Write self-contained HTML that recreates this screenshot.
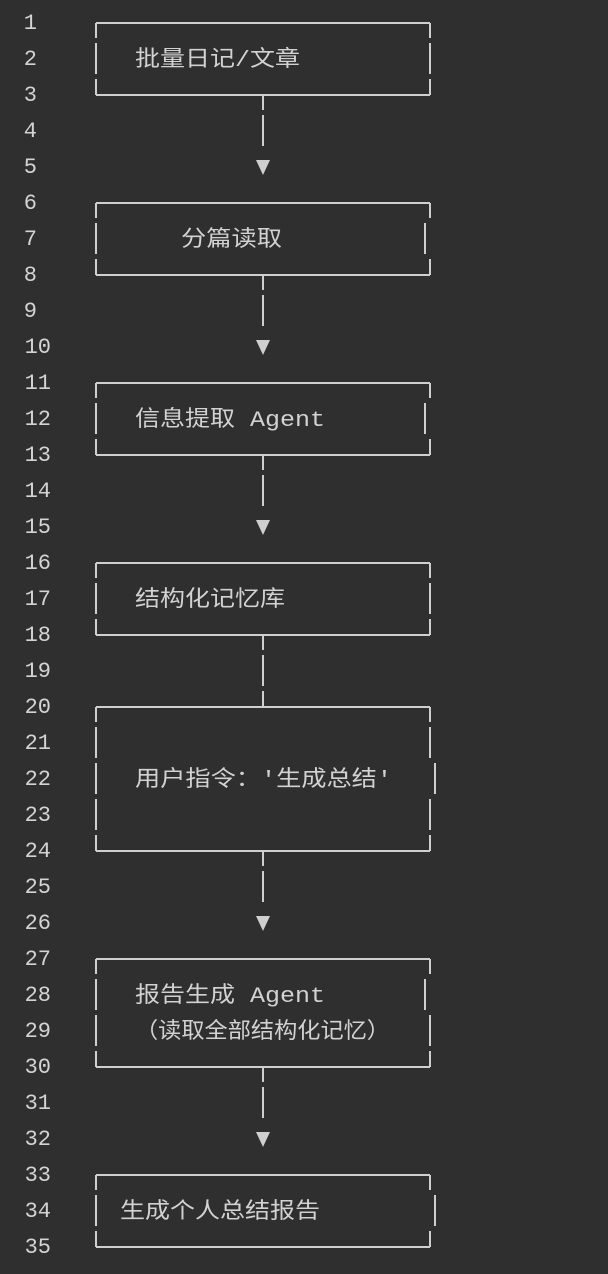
<!DOCTYPE html>
<html><head><meta charset="utf-8"><style>
html,body{margin:0;padding:0;background:#2f2f2f;}
svg{display:block}
text{font-family:"Liberation Mono","Noto Sans CJK SC",monospace;fill:#d2d2d2;}
.n{font-size:22px;text-anchor:end;fill:#d4d4d4}
.t{font-size:22px}
</style></head><body>
<svg width="608" height="1274" viewBox="0 0 608 1274" xmlns="http://www.w3.org/2000/svg">
<g id="nums">
<text class="n" x="37" y="29">1</text><text class="n" x="37" y="65">2</text><text class="n" x="37" y="101">3</text><text class="n" x="37" y="137">4</text><text class="n" x="37" y="173">5</text><text class="n" x="37" y="209">6</text><text class="n" x="37" y="245">7</text><text class="n" x="37" y="281">8</text><text class="n" x="37" y="317">9</text>
<text class="n" x="51" y="353">10</text><text class="n" x="51" y="389">11</text><text class="n" x="51" y="425">12</text><text class="n" x="51" y="461">13</text><text class="n" x="51" y="497">14</text><text class="n" x="51" y="533">15</text><text class="n" x="51" y="569">16</text><text class="n" x="51" y="605">17</text><text class="n" x="51" y="641">18</text><text class="n" x="51" y="677">19</text><text class="n" x="51" y="713">20</text><text class="n" x="51" y="749">21</text><text class="n" x="51" y="785">22</text><text class="n" x="51" y="821">23</text><text class="n" x="51" y="857">24</text><text class="n" x="51" y="893">25</text><text class="n" x="51" y="929">26</text><text class="n" x="51" y="965">27</text><text class="n" x="51" y="1001">28</text><text class="n" x="51" y="1037">29</text><text class="n" x="51" y="1073">30</text><text class="n" x="51" y="1109">31</text><text class="n" x="51" y="1145">32</text><text class="n" x="51" y="1181">33</text><text class="n" x="51" y="1217">34</text><text class="n" x="51" y="1253">35</text>
</g>
<g stroke="#cfcfcf" stroke-width="2" fill="none">
<path d="M96,23H430 M96,95H430 M96,23V38 M96,43V74 M96,79V95 M430,23V38 M430,43V74 M430,79V95"/>
<path d="M263,95V110 M263,115V146"/>
<path d="M96,203H430 M96,275H430 M96,203V218 M96,223V254 M96,259V275 M430,203V218 M425,223V254 M430,259V275"/>
<path d="M263,275V290 M263,295V326"/>
<path d="M96,383H430 M96,455H430 M96,383V398 M96,403V434 M96,439V455 M430,383V398 M425,403V434 M430,439V455"/>
<path d="M263,455V470 M263,475V506"/>
<path d="M96,563H430 M96,635H430 M96,563V578 M96,583V614 M96,619V635 M430,563V578 M430,583V614 M430,619V635"/>
<path d="M263,635V650 M263,655V686 M263,691V707"/>
<path d="M96,707H430 M96,851H430 M96,707V722 M96,727V758 M96,763V794 M96,799V830 M96,835V851 M430,707V722 M430,727V758 M435,763V794 M430,799V830 M430,835V851"/>
<path d="M263,851V866 M263,871V902"/>
<path d="M96,959H430 M96,1067H430 M96,959V974 M96,979V1010 M96,1015V1046 M96,1051V1067 M430,959V974 M425,979V1010 M430,1015V1046 M430,1051V1067"/>
<path d="M263,1067V1082 M263,1087V1118"/>
<path d="M96,1175H430 M96,1247H430 M96,1175V1190 M96,1195V1226 M96,1231V1247 M430,1175V1190 M435,1195V1226 M430,1231V1247"/>
</g>
<g fill="#cfcfcf">
<polygon points="256,160 270,160 263,175"/>
<polygon points="256,340 270,340 263,355"/>
<polygon points="256,520 270,520 263,535"/>
<polygon points="256,916 270,916 263,931"/>
<polygon points="256,1132 270,1132 263,1147"/>
</g>
<text class="t" x="135" y="66" textLength="165" lengthAdjust="spacingAndGlyphs">批量日记/文章</text>
<text class="t" x="181" y="246" textLength="101" lengthAdjust="spacingAndGlyphs">分篇读取</text>
<text class="t" x="135" y="426" textLength="190" lengthAdjust="spacingAndGlyphs">信息提取 Agent</text>
<text class="t" x="135" y="606" textLength="150" lengthAdjust="spacingAndGlyphs">结构化记忆库</text>
<text class="t" x="135" y="786" textLength="257" lengthAdjust="spacingAndGlyphs">用户指令：'生成总结'</text>
<text class="t" x="135" y="1002" textLength="190" lengthAdjust="spacingAndGlyphs">报告生成 Agent</text>
<text class="t" x="135" y="1038" textLength="255" lengthAdjust="spacingAndGlyphs">（读取全部结构化记忆）</text>
<text class="t" x="120" y="1218" textLength="200" lengthAdjust="spacingAndGlyphs">生成个人总结报告</text>
</svg>
</body></html>
